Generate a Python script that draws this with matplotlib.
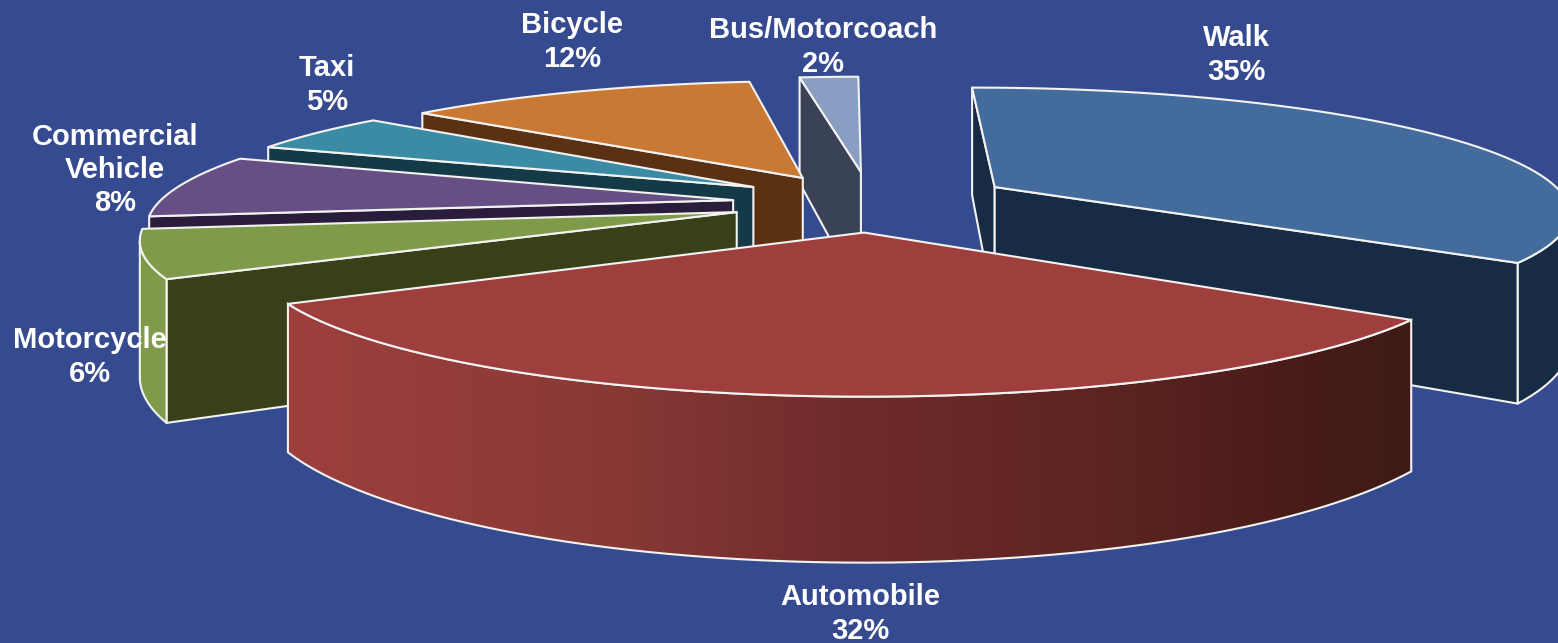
import numpy as np
import matplotlib
matplotlib.use("Agg")
import matplotlib.pyplot as plt
from matplotlib.colors import LinearSegmentedColormap
from matplotlib.patches import Polygon

# clockwise from the far side of the pie
categories = ["Bus/Motorcoach", "Walk", "Automobile", "Motorcycle",
              "Commercial\nVehicle", "Taxi", "Bicycle"]
shares = [2, 35, 32, 6, 8, 5, 12]

# slice styling
top_colors = ["#8a9dc2", "#436b9c", "#9e3f3e", "#7f9a48", "#664f84", "#3c8ba4", "#ca7935"]
side_colors = ["#3a4258", "#182b45", "#4a1c18", "#374019", "#2a1d3b", "#143a48", "#5a3213"]
wall_colors = ["#3a4258", "#182b45", "#9e3f3e", "#7f9a48", "#2a1d3b", "#143a48", "#5a3213"]
explode_x = [1, 144, 4, -127, -133, -114, -62]
explode_y = [300, 221, 2, 97, 155, 221, 268]
label_pos = [(823, 47), (1236, 55), (860, 614), (90, 357), (115, 170), (327, 85), (572, 42)]

BG = "#364b8f"
LINE = "#f2f2f0"
FONT = "Liberation Sans"

# perspective view of the pie
CX = 860
HORIZON = -479
HEIGHT = 712
DIST = 3200
RADIUS = 600
THICK = 135
START = -7.5


def project(x, y, z=0):
    s = DIST / (DIST + np.asarray(y, dtype=float))
    return CX + s * np.asarray(x, dtype=float), HORIZON + s * (HEIGHT + z)


def face(xs, ys, zs):
    px, py = project(np.array(xs), np.array(ys), np.array(zs))
    return np.column_stack([px, py])


def draw_face(ax, pts, color, zorder):
    ax.add_patch(Polygon(pts, closed=True, facecolor=color, edgecolor=LINE,
                         linewidth=1.5, joinstyle="round", zorder=zorder))


def cut_visible(ox, oy, angle):
    a = np.radians(angle)
    return ox * np.sin(a) + (oy + DIST) * np.cos(a) < 0


def draw_gradient(ax, pts, zorder):
    stops = [(0.0, "#9e3f3e"), (0.27, "#8a3a36"), (0.5, "#6f2b2b"),
             (0.76, "#5a2320"), (0.9, "#481b18"), (1.0, "#3f1b16")]
    cmap = LinearSegmentedColormap.from_list("wall", stops)
    patch = Polygon(pts, closed=True, facecolor="none", edgecolor=LINE,
                    linewidth=1.5, zorder=zorder + 0.01)
    ax.add_patch(patch)
    x0, x1 = pts[:, 0].min(), pts[:, 0].max()
    y0, y1 = pts[:, 1].min(), pts[:, 1].max()
    im = ax.imshow(np.linspace(0, 1, 256).reshape(1, -1), cmap=cmap, aspect="auto",
                   extent=(x0, x1, y1, y0), zorder=zorder, interpolation="bilinear")
    im.set_clip_path(patch)


def draw_slice(ax, i, a0, a1, zorder):
    ox, oy = explode_x[i], explode_y[i]
    th = np.radians(np.linspace(a0, a1, 80))
    arc_x = ox + RADIUS * np.sin(th)
    arc_y = oy + RADIUS * np.cos(th)

    # flat cut faces, only those turned to the viewer
    for edge, normal in ((a0, a0 - 90), (a1, a1 + 90)):
        if cut_visible(ox, oy, normal):
            e = np.radians(edge)
            ex, ey = ox + RADIUS * np.sin(e), oy + RADIUS * np.cos(e)
            pts = face([ox, ex, ex, ox], [oy, ey, ey, oy], [0, 0, THICK, THICK])
            draw_face(ax, pts, side_colors[i], zorder)

    # outer wall, front part of the arc only
    facing = arc_x * np.sin(th) + (arc_y + DIST) * np.cos(th) < 0
    if facing.sum() > 1:
        wx, wy = arc_x[facing], arc_y[facing]
        up = face(wx, wy, np.zeros(len(wx)))
        down = face(wx, wy, np.full(len(wx), THICK))
        pts = np.vstack([up, down[::-1]])
        if categories[i] == "Automobile":
            draw_gradient(ax, pts, zorder + 0.1)
        else:
            draw_face(ax, pts, wall_colors[i], zorder + 0.1)

    # top
    pts = face(np.r_[ox, arc_x], np.r_[oy, arc_y], np.zeros(len(th) + 1))
    draw_face(ax, pts, top_colors[i], zorder + 0.2)


fig = plt.figure(figsize=(15.58, 6.43), dpi=100, facecolor=BG)
ax = fig.add_axes([0, 0, 1, 1])
ax.set_facecolor(BG)

edges = START + np.r_[0, np.cumsum(shares)] * 360 / sum(shares)
order = sorted(range(len(shares)), key=lambda k: -explode_y[k])
for n, i in enumerate(order):
    draw_slice(ax, i, edges[i], edges[i + 1], 2 + n)

ax.set_xlim(0, 1558)
ax.set_ylim(643, 0)
ax.axis("off")

for i, name in enumerate(categories):
    ax.text(label_pos[i][0], label_pos[i][1], f"{name}\n{shares[i]}%", color="white",
            fontsize=21, fontweight="bold", family=FONT, ha="center", va="center",
            linespacing=1.23, zorder=20)

fig.savefig("out.png", dpi=100, facecolor=BG)
